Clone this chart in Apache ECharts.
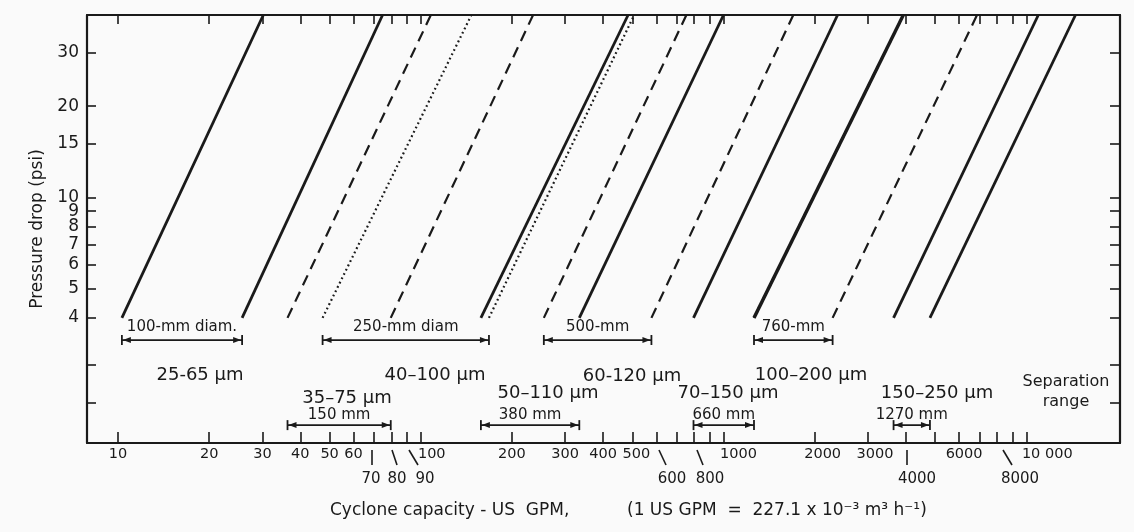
<!DOCTYPE html>
<html><head><meta charset="utf-8">
<script src="https://cdn.jsdelivr.net/npm/echarts@6/dist/echarts.min.js"></script>
<style>html,body{margin:0;padding:0;background:#fafafa}#c{width:1134px;height:532px}</style>
</head><body><div id="c"></div>
<script>
// ---- data ----
const diameters = ['100-mm diam.', '150 mm', '250-mm diam', '380 mm', '500-mm', '660 mm', '760-mm', '1270 mm'];
const separationRanges = ['25-65 µm', '35–75 µm', '40–100 µm', '50–110 µm', '60-120 µm', '70–150 µm', '100–200 µm', '150–250 µm'];
const lineKinds = ['solid', 'dashed', 'dotted', 'solid', 'dashed', 'solid', 'dashed', 'solid'];
const pressureLow = 4;      // psi, lower end of every line
const pressureHigh = 40;    // psi, top of chart
// capacity (US GPM) at 4 psi and at 40 psi, lower & upper limit of each diameter
const qMinAtLow  = [10.3, 36.3, 47.4, 158, 255, 796, 1261, 3645];
const qMinAtHigh = [30.2, 108, 147, 484, 754, 2381, 3926, 10960];
const qMaxAtLow  = [25.7, 79.6, 168, 334, 578, 1261, 2293, 4807];
const qMaxAtHigh = [74.8, 235, 507, 1000, 1700, 3926, 6875, 14540];
// tick labels
const xLabelRow1 = [10, 20, 30, 40, 50, 60, 100, 200, 300, 400, 500, 1000, 2000, 3000, 6000, 10000];
const xLabelRow2 = [70, 80, 90, 600, 800, 4000, 8000];
const xTicks = [10,20,30,40,50,60,70,80,90,100,200,300,400,500,600,700,800,900,1000,2000,3000,4000,5000,6000,7000,8000,9000,10000];
const yLabels = [4, 5, 6, 7, 8, 9, 10, 15, 20, 30];
const yTicks = [2.1, 2.8, 4, 5, 6, 7, 8, 9, 10, 15, 20, 30];

// ---- layout / style ----
const FONT = 'DejaVu Sans';
const INK = '#1a1a1a';
const X_MIN = 7.9, X_MAX = 20400, Y_MIN = 1.545, Y_MAX = 40;
const barLevels = [3.38, 1.77];        // psi level of the diameter bars (upper / lower row)
const barLabelGap = [13, 10];
const labelShift = {100: 11, 500: 4, 1000: 15, 10000: 21, 2000: 8, 3000: 7, 6000: 5};
const row2Layout = {70: [371, 372, 372], 80: [397, 392, 397], 90: [425, 409, 418], 600: [672, 659, 666], 800: [710, 697, 703], 4000: [917, 907, 907], 8000: [1020, 1003, 1012]};
const sepLayout = [[200, 375], [347, 398], [435, 375], [548, 393], [632, 376], [728, 393], [811, 375], [937, 393]];

function styleFor(kind, thick) {
  if (kind === 'solid') return {color: INK, width: thick ? 3.4 : 2.8, type: 'solid'};
  if (kind === 'dashed') return {color: INK, width: 2.2, type: [11, 7]};
  return {color: INK, width: 2.2, type: [1.8, 3]};
}

const series = [];
diameters.forEach((d, i) => {
  series.push({
    type: 'line', name: d + ' min', symbol: 'none', silent: true,
    data: [[qMinAtLow[i], pressureLow], [qMinAtHigh[i], pressureHigh]],
    lineStyle: styleFor(lineKinds[i])
  });
  series.push({
    type: 'line', name: d + ' max', symbol: 'none', silent: true,
    data: [[qMaxAtLow[i], pressureLow], [qMaxAtHigh[i], pressureHigh]],
    lineStyle: styleFor(lineKinds[i], i === 5)
  });
});

series.push({
  type: 'custom', clip: false, silent: true,
  data: diameters.map((d, i) => [qMinAtLow[i], qMaxAtLow[i], i]),
  renderItem: function (params, api) {
    const i = api.value(2);
    const lvl = barLevels[i % 2];
    const a = api.coord([api.value(0), lvl]);
    const b = api.coord([api.value(1), lvl]);
    const y = a[1];
    const st = {stroke: INK, lineWidth: 1.8};
    return {type: 'group', children: [
      {type: 'line', shape: {x1: a[0], y1: y, x2: b[0], y2: y}, style: st},
      {type: 'line', shape: {x1: a[0], y1: y - 5, x2: a[0], y2: y + 5}, style: st},
      {type: 'line', shape: {x1: b[0], y1: y - 5, x2: b[0], y2: y + 5}, style: st},
      {type: 'polygon', shape: {points: [[a[0] + 1, y], [a[0] + 9, y - 3], [a[0] + 9, y + 3]]}, style: {fill: INK}},
      {type: 'polygon', shape: {points: [[b[0] - 1, y], [b[0] - 9, y - 3], [b[0] - 9, y + 3]]}, style: {fill: INK}},
      {type: 'text', x: (a[0] + b[0]) / 2, y: y - barLabelGap[i % 2],
        style: {text: diameters[i], textAlign: 'center', textVerticalAlign: 'middle', font: '15px "' + FONT + '"', fill: INK}}
    ]};
  }
});

const graphic = [];
separationRanges.forEach((t, i) => {
  graphic.push({type: 'text', x: sepLayout[i][0], y: sepLayout[i][1],
    style: {text: t, textAlign: 'center', textVerticalAlign: 'middle', font: '18px "' + FONT + '"', fill: INK}});
});
graphic.push({type: 'text', x: 1066, y: 392,
  style: {text: 'Separation\nrange', textAlign: 'center', textVerticalAlign: 'middle', font: '16px "' + FONT + '"', lineHeight: 20, fill: INK}});
xLabelRow2.forEach(v => {
  const L = row2Layout[v];
  graphic.push({type: 'line', shape: {x1: L[1], y1: 450, x2: L[2], y2: 465}, style: {stroke: INK, lineWidth: 1.6}});
  graphic.push({type: 'text', x: L[0], y: 479,
    style: {text: String(v), textAlign: 'center', textVerticalAlign: 'middle', font: '15px "' + FONT + '"', fill: INK}});
});
graphic.push({type: 'text', x: 330, y: 511,
  style: {text: 'Cyclone capacity - US  GPM,', textAlign: 'left', textVerticalAlign: 'middle', font: '17px "' + FONT + '"', fill: INK}});
graphic.push({type: 'text', x: 627, y: 511,
  style: {text: '(1 US GPM  =  227.1 x 10⁻³ m³ h⁻¹)', textAlign: 'left', textVerticalAlign: 'middle', font: '17px "' + FONT + '"', fill: INK}});

const axisLineStyle = {show: true, lineStyle: {color: INK, width: 2.2}};
const rich = {};
Object.keys(labelShift).forEach(k => { rich['s' + k] = {padding: [0, 0, 0, 2 * labelShift[k]], fontSize: 14.5, fontFamily: FONT, color: INK}; });

const option = {
  backgroundColor: '#fafafa',
  animation: false,
  grid: {left: 87, right: 14, top: 15, bottom: 89, containLabel: false},
  xAxis: [{
    type: 'log', min: X_MIN, max: X_MAX, position: 'bottom',
    axisLine: axisLineStyle, splitLine: {show: false}, minorTick: {show: false},
    axisTick: {show: true, inside: true, length: 11, customValues: xTicks, lineStyle: {color: INK, width: 1.6}},
    axisLabel: {show: true, margin: 4, customValues: xLabelRow1, fontSize: 14.5, fontFamily: FONT, color: INK, rich: rich,
      formatter: function (v) {
        const r = Math.round(v);
        const txt = r === 10000 ? '10 000' : String(r);
        return labelShift[r] ? '{s' + r + '|' + txt + '}' : txt;
      }}
  }, {
    type: 'log', min: X_MIN, max: X_MAX, position: 'top',
    axisLine: axisLineStyle, splitLine: {show: false},
    axisTick: {show: true, inside: true, length: 9, customValues: xTicks, lineStyle: {color: INK, width: 1.6}},
    axisLabel: {show: false}
  }],
  yAxis: [{
    type: 'log', min: Y_MIN, max: Y_MAX, position: 'left',
    name: 'Pressure drop (psi)', nameLocation: 'middle', nameGap: 40,
    nameTextStyle: {fontSize: 17, fontFamily: FONT, color: INK},
    axisLine: axisLineStyle, splitLine: {show: false},
    axisTick: {show: true, inside: true, length: 9, customValues: yTicks, lineStyle: {color: INK, width: 1.6}},
    axisLabel: {show: true, margin: 8, customValues: yLabels, fontSize: 17, fontFamily: FONT, color: INK,
      formatter: v => String(Math.round(v))}
  }, {
    type: 'log', min: Y_MIN, max: Y_MAX, position: 'right',
    axisLine: axisLineStyle, splitLine: {show: false},
    axisTick: {show: true, inside: true, length: 10, customValues: yTicks, lineStyle: {color: INK, width: 1.6}},
    axisLabel: {show: false}
  }],
  series: series,
  graphic: graphic
};
const chart = echarts.init(document.getElementById('c'));
chart.setOption(option);
</script></body></html>
